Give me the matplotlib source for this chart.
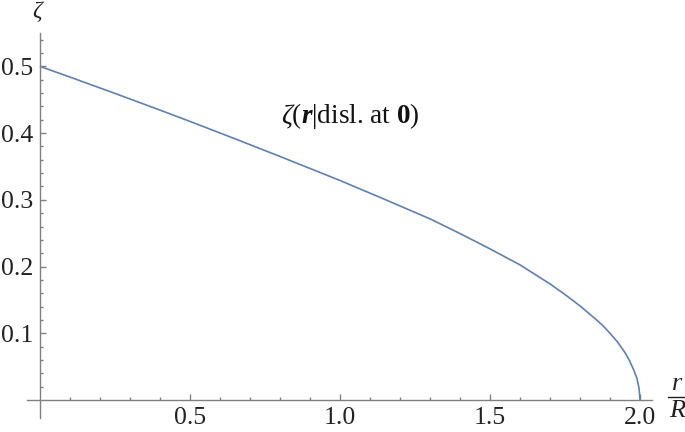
import matplotlib
matplotlib.use("Agg")
import matplotlib.pyplot as plt
from matplotlib.ticker import FixedLocator
from matplotlib.lines import Line2D

plt.rcParams['font.family'] = ['Liberation Serif', 'DejaVu Serif']
plt.rcParams['mathtext.fontset'] = 'custom'
plt.rcParams['mathtext.rm'] = 'Liberation Serif'
plt.rcParams['mathtext.it'] = 'Liberation Serif:italic'
plt.rcParams['mathtext.bf'] = 'Liberation Serif:bold'
plt.rcParams['mathtext.bfit'] = 'Liberation Serif:bold:italic'

# data
r_vals = [0, 0.1, 0.25, 0.4, 0.5, 0.65, 0.8, 1.0, 1.15, 1.3, 1.4, 1.5, 1.6, 1.7,
          1.75, 1.8, 1.85, 1.875, 1.9, 1.925, 1.95, 1.965, 1.98, 1.99, 1.997, 2.0]
zeta_vals = [0.5, 0.484, 0.4595, 0.4345, 0.4175, 0.3915, 0.365, 0.329, 0.3005,
             0.2715, 0.2495, 0.2265, 0.2025, 0.174, 0.158, 0.141, 0.122, 0.112,
             0.100, 0.087, 0.071, 0.059, 0.044, 0.032, 0.017, 0.0]
x_major = [0.5, 1.0, 1.5, 2.0]
y_major = [0.1, 0.2, 0.3, 0.4, 0.5]

W, H = 685, 432
fig = plt.figure(figsize=(W / 100, H / 100), dpi=100)
ax = fig.add_axes([27 / W, 1 - 418 / H, (652 - 27) / W, (418 - 33) / H])

ax.plot(r_vals, zeta_vals, color='#5E81B5', lw=1.2, solid_capstyle='butt')

ax.set_xlim(-0.043, 2.04)
ax.set_ylim(-0.027, 0.55)

for s in ['top', 'right']:
    ax.spines[s].set_visible(False)
ax.spines['left'].set_position(('data', 0))
ax.spines['bottom'].set_position(('data', 0))
for s in ['left', 'bottom']:
    ax.spines[s].set_color('#808080')
    ax.spines[s].set_linewidth(1.0)

ax.xaxis.set_major_locator(FixedLocator(x_major))
ax.yaxis.set_major_locator(FixedLocator(y_major))
ax.xaxis.set_minor_locator(FixedLocator([i * 0.1 for i in range(1, 21) if i % 5 != 0]))
ax.yaxis.set_minor_locator(FixedLocator([i * 0.02 for i in range(1, 28) if i % 5 != 0]))
ax.set_xticklabels([f"{v:.1f}" for v in x_major])
ax.set_yticklabels([f"{v:.1f}" for v in y_major])

ax.tick_params(which='both', direction='in', color='#808080', width=1.0,
               labelsize=18.5, labelcolor='#222222')
ax.tick_params(which='major', length=4.5)
ax.tick_params(which='minor', length=2.5)
ax.tick_params(axis='x', which='major', pad=5)
ax.tick_params(axis='y', which='major', pad=5)

ax.text(1.033, 0.415, r'$\zeta(\mathbfit{r}|$disl. at $\mathbf{0})$',
        ha='center', va='baseline', fontsize=19.5, color='#111111')

fig.text(38 / W, 1 - 12 / H, r'$\zeta$', ha='center', va='center', fontsize=17,
         color='#222222')

# r / R axis label
fig.text(677 / W, 1 - 384 / H, 'r', ha='center', va='center', fontsize=19,
         fontstyle='italic', color='#222222')
fig.text(677 / W, 1 - 411 / H, 'R', ha='center', va='center', fontsize=19,
         fontstyle='italic', color='#222222')
fig.add_artist(Line2D([668 / W, 686 / W], [1 - 397 / H, 1 - 397 / H],
                      transform=fig.transFigure, color='#222222', lw=1.0))

fig.savefig('out.png', dpi=100)
